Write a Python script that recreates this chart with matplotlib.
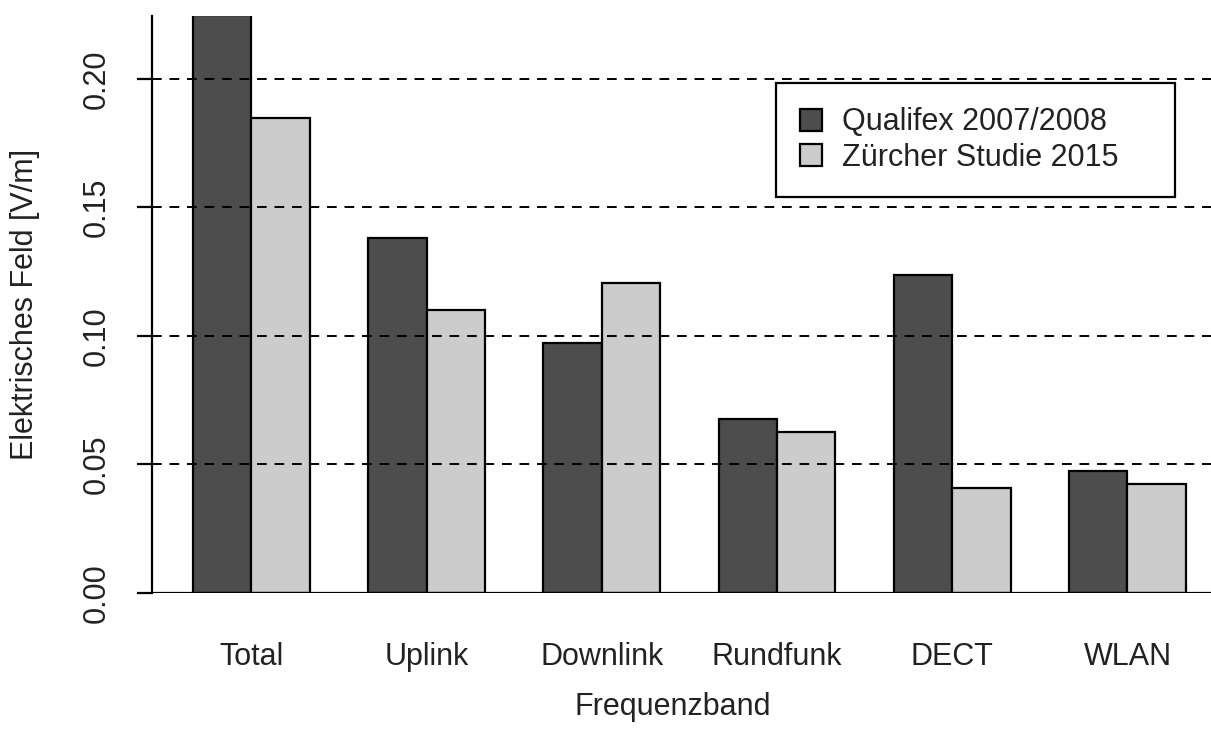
import matplotlib
matplotlib.use("Agg")
import matplotlib.pyplot as plt
import numpy as np

kategorien = ["Total", "Uplink", "Downlink", "Rundfunk", "DECT", "WLAN"]
qualifex = [0.2249, 0.1381, 0.0973, 0.0677, 0.1237, 0.0475]
zuerich = [0.1848, 0.1101, 0.1206, 0.0626, 0.0409, 0.0424]
serien = ["Qualifex 2007/2008", "Zürcher Studie 2015"]
yticks = [0.00, 0.05, 0.10, 0.15, 0.20]

plt.rcParams["font.family"] = ["Liberation Sans", "DejaVu Sans"]
plt.rcParams["font.size"] = 22

fig = plt.figure(figsize=(12.11, 7.46), dpi=100)
W, H = 1211, 746
ax = fig.add_axes([152 / W, (H - 593) / H, (W - 152) / W, (593 - 16) / H])

# R barplot style: groups start at 1, 4, 7 ... (space = c(0, 1))
start = 1 + 3 * np.arange(len(kategorien))
ax.bar(start + 0.5, qualifex, width=1, color="#4d4d4d", edgecolor="black", linewidth=1.6, label=serien[0], zorder=2)
ax.bar(start + 1.5, zuerich, width=1, color="#cccccc", edgecolor="black", linewidth=1.6, label=serien[1], zorder=2)

for y in yticks[1:]:
    ax.axhline(y, color="black", lw=1.4, dashes=(5, 4), zorder=3)
ax.axhline(0, color="black", lw=1.6, zorder=3)

ax.set_xlim(0.3, 18.43)
ax.set_ylim(0, 0.2245)
for s in ["top", "right", "bottom"]:
    ax.spines[s].set_visible(False)
ax.spines["left"].set_linewidth(1.6)

ax.set_yticks(yticks)
ax.set_yticklabels([f"{v:.2f}" for v in yticks], rotation=90, va="center", color="#222222")
ax.tick_params(axis="y", length=10.8, width=1.6, pad=18)
ax.set_xticks(start + 1)
ax.set_xticklabels(kategorien, color="#222222")
ax.tick_params(axis="x", length=0, pad=35)

ax.set_xlabel("Frequenzband", color="#222222")
ax.xaxis.set_label_coords(0.492, -0.197)
ax.xaxis.label.set_va("center")
ax.set_ylabel("Elektrisches Feld [V/m]", color="#222222")
ax.yaxis.set_label_coords(-0.12, 0.5)
ax.yaxis.label.set_va("center")

leg = ax.legend(loc="upper left", bbox_to_anchor=(776 / W, 0.3, 399 / W, 1 - 83 / H - 0.3),
                bbox_transform=fig.transFigure, mode="expand", borderaxespad=0,
                fancybox=False, edgecolor="black", framealpha=1,
                handlelength=0.72, handleheight=0.72, handletextpad=0.65,
                borderpad=0.8, labelspacing=0.18)
leg.get_frame().set_linewidth(1.6)
for t in leg.get_texts():
    t.set_color("#222222")

fig.savefig("out.png", dpi=100)
